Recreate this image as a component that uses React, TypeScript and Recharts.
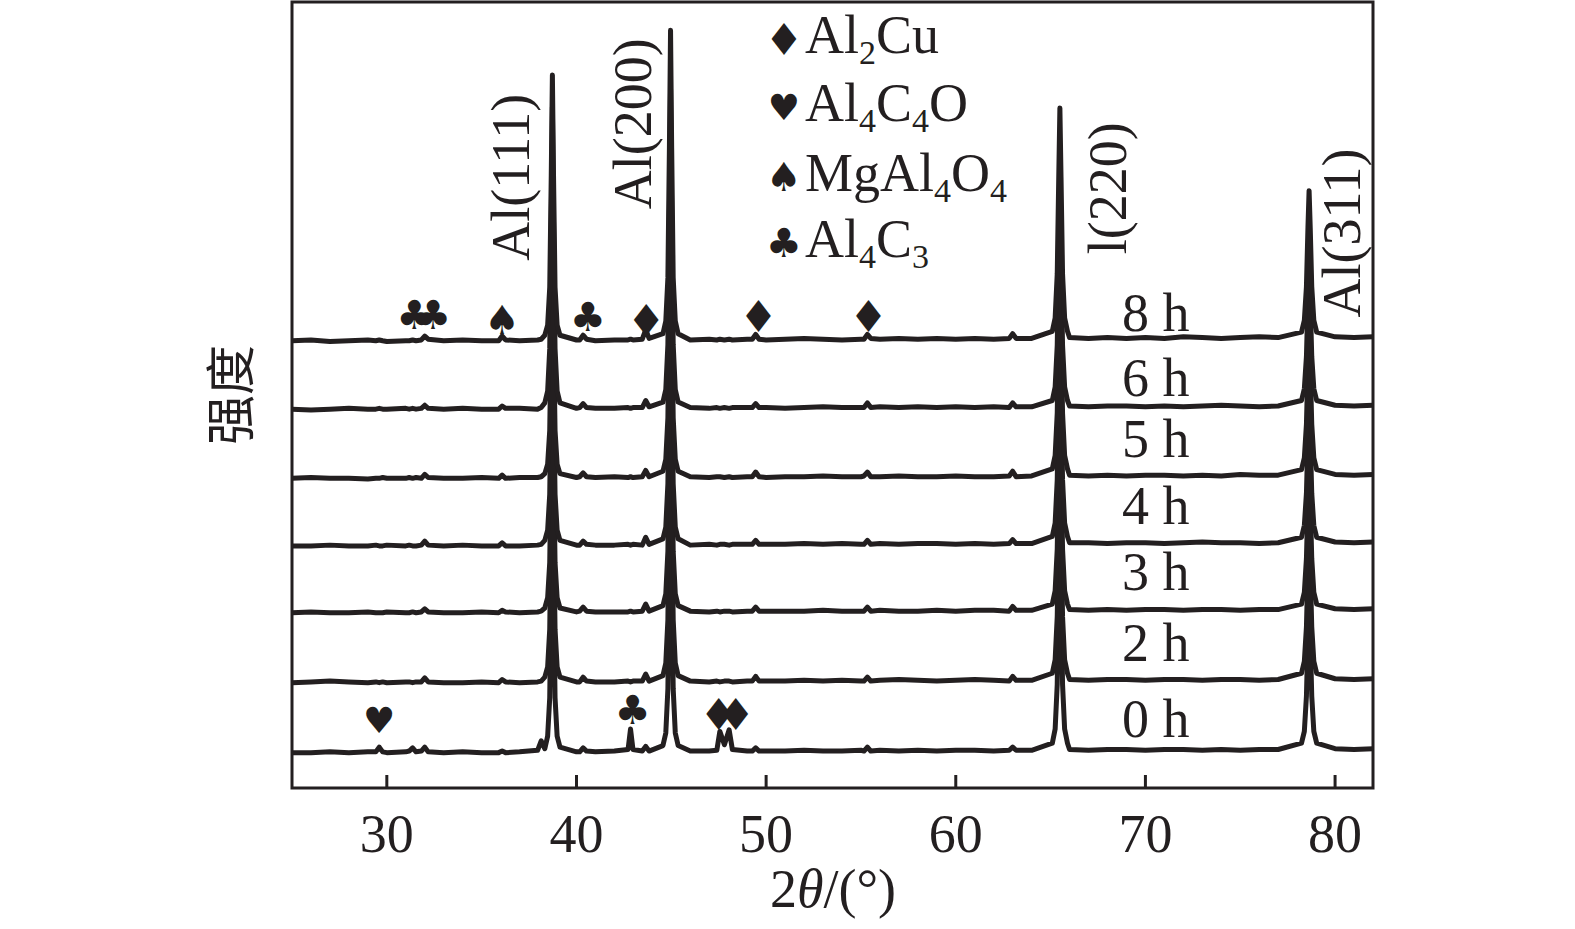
import { LineChart, Line, XAxis, YAxis, ReferenceArea, ReferenceDot } from 'recharts';

// 2θ sampling positions (degrees)
const twoTheta = [
  25, 26, 27, 28, 29, 29.42, 29.6, 29.78, 30, 31, 31.18, 31.36, 31.54, 31.82, 32.0, 32.18,
  33, 34, 35, 35.9, 36.08, 36.26, 37, 37.95, 38.14, 38.33, 38.48, 38.59, 38.67, 38.73, 38.79, 38.87, 38.98, 39.13,
  40, 40.17, 40.35, 40.53, 41, 42, 42.72, 42.85, 42.98, 43.47, 43.65, 43.83, 44.56, 44.71, 44.82, 44.9, 44.96, 45.02, 45.1, 45.21, 45.36,
  46, 47, 47.4, 47.56, 47.8, 48.05, 48.22, 49, 49.27, 49.45, 49.63, 50, 51, 52, 53, 54, 55, 55.16, 55.34, 55.52, 56, 57, 58, 59, 60, 61, 62, 62.82, 63, 63.18, 64,
  65.09, 65.24, 65.35, 65.43, 65.49, 65.55, 65.63, 65.74, 65.89, 66, 67, 68, 69, 70, 71, 72, 73, 74, 75, 76, 77,
  78.23, 78.38, 78.49, 78.57, 78.63, 78.69, 78.77, 78.88, 79.03, 80, 81, 82,
];

// intensity (a.u.) of each ball-milling time
const i0h = [
  10, 10, 11, 10, 11, 11, 17, 11, 10, 11, 12, 16, 11, 12, 17, 11,
  10, 11, 10, 10, 12, 10, 11, 13, 25, 15, 31, 80, 227, 360, 227, 80, 31, 17,
  11, 11, 16, 12, 11, 12, 14, 40, 14, 12, 18, 12, 19, 35, 91, 259, 411, 259, 91, 35, 19,
  12, 12, 13, 37, 20, 39, 14, 12, 12, 16, 12, 12, 12, 13, 12, 12, 13, 12, 17, 12, 13, 12, 13, 12, 13, 13, 12, 13, 17, 13, 13,
  22, 40, 97, 223, 313, 223, 97, 40, 22, 14, 13, 14, 14, 13, 14, 14, 13, 14, 13, 14, 14,
  22, 37, 82, 160, 209, 160, 82, 37, 22, 15, 14, 15,
];
const i2h = [
  10, 11, 12, 11, 10, 11, 10, 11, 10, 11, 11, 10, 11, 11, 16, 11,
  10, 10, 11, 10, 14, 11, 10, 11, 12, 17, 30, 78, 221, 350, 221, 78, 30, 17,
  11, 11, 17, 12, 11, 11, 12, 11, 12, 12, 21, 12, 19, 35, 90, 256, 406, 256, 90, 35, 19,
  12, 11, 12, 11, 12, 12, 11, 12, 12, 18, 12, 12, 12, 13, 12, 13, 12, 12, 17, 12, 13, 14, 13, 12, 13, 14, 13, 12, 18, 13, 13,
  22, 39, 94, 216, 303, 216, 94, 39, 22, 14, 13, 14, 14, 13, 14, 14, 13, 14, 14, 13, 14,
  22, 37, 81, 157, 204, 157, 81, 37, 22, 15, 14, 15,
];
const i3h = [
  10, 11, 10, 10, 11, 10, 10, 10, 11, 10, 10, 11, 10, 11, 15, 11,
  10, 10, 11, 10, 13, 11, 10, 11, 12, 16, 29, 74, 208, 330, 208, 74, 29, 16,
  11, 12, 17, 12, 11, 11, 11, 12, 11, 12, 21, 12, 19, 34, 88, 250, 396, 250, 88, 34, 19,
  12, 11, 12, 11, 12, 12, 11, 12, 12, 17, 12, 12, 12, 12, 13, 12, 12, 12, 17, 12, 13, 12, 12, 13, 12, 13, 13, 12, 18, 13, 13,
  21, 38, 91, 209, 293, 209, 91, 38, 21, 14, 13, 14, 13, 14, 14, 13, 14, 14, 13, 14, 14,
  21, 36, 79, 153, 199, 153, 79, 36, 21, 15, 14, 15,
];
const i4h = [
  10, 10, 11, 10, 10, 11, 10, 10, 11, 10, 11, 10, 10, 11, 16, 11,
  10, 11, 10, 10, 14, 10, 10, 11, 12, 17, 30, 76, 215, 340, 215, 76, 30, 17,
  11, 11, 16, 12, 11, 11, 12, 11, 12, 11, 21, 12, 19, 34, 89, 253, 401, 253, 89, 34, 19,
  11, 12, 11, 12, 12, 11, 12, 12, 12, 17, 12, 12, 12, 13, 12, 13, 12, 12, 17, 12, 13, 12, 13, 13, 12, 13, 12, 13, 18, 13, 13,
  22, 39, 94, 216, 303, 216, 94, 39, 22, 14, 14, 13, 14, 14, 13, 14, 15, 14, 14, 13, 14,
  21, 36, 77, 149, 194, 149, 77, 36, 21, 15, 14, 15,
];
const i5h = [
  10, 11, 10, 10, 9, 10, 10, 11, 10, 10, 11, 10, 11, 10, 15, 11,
  10, 10, 11, 10, 14, 10, 11, 11, 12, 16, 28, 71, 200, 317, 200, 71, 28, 16,
  11, 12, 17, 12, 11, 12, 11, 12, 11, 12, 20, 12, 19, 34, 87, 247, 391, 247, 87, 34, 19,
  12, 11, 12, 12, 11, 12, 11, 12, 12, 18, 12, 11, 12, 12, 13, 12, 12, 13, 18, 12, 12, 13, 12, 12, 13, 12, 12, 13, 19, 12, 13,
  22, 39, 93, 213, 298, 213, 93, 39, 22, 14, 13, 14, 13, 14, 14, 13, 14, 13, 15, 14, 14,
  21, 36, 79, 153, 199, 153, 79, 36, 21, 15, 14, 15,
];
const i6h = [
  10, 9, 10, 11, 10, 10, 11, 10, 10, 11, 10, 11, 10, 11, 15, 11,
  10, 11, 10, 10, 14, 11, 11, 10, 12, 18, 33, 87, 248, 394, 248, 87, 33, 18,
  11, 12, 17, 12, 11, 11, 12, 11, 12, 12, 21, 13, 19, 35, 92, 263, 418, 263, 92, 35, 19,
  12, 11, 12, 11, 12, 11, 12, 12, 12, 17, 12, 12, 11, 12, 13, 12, 12, 12, 18, 12, 13, 12, 13, 12, 13, 12, 13, 12, 18, 13, 13,
  21, 38, 91, 209, 293, 209, 91, 38, 21, 14, 13, 14, 14, 13, 14, 13, 14, 15, 14, 13, 14,
  21, 36, 77, 149, 194, 149, 77, 36, 21, 15, 14, 15,
];
const i8h = [
  10, 11, 9, 10, 11, 10, 11, 10, 9, 10, 10, 11, 10, 11, 16, 12,
  10, 11, 10, 10, 16, 11, 10, 11, 12, 17, 30, 78, 220, 348, 220, 78, 30, 17,
  11, 11, 17, 12, 10, 11, 11, 12, 11, 12, 24, 13, 19, 35, 90, 255, 405, 255, 90, 35, 19,
  11, 12, 11, 12, 11, 12, 11, 12, 12, 18, 12, 11, 12, 13, 12, 11, 12, 12, 18, 13, 12, 13, 12, 13, 12, 13, 12, 13, 19, 13, 13,
  22, 39, 95, 218, 306, 218, 95, 39, 22, 14, 13, 14, 13, 14, 13, 15, 14, 13, 14, 15, 14,
  21, 36, 79, 154, 201, 154, 79, 36, 21, 15, 14, 15,
];

const samples = ['0 h', '2 h', '3 h', '4 h', '5 h', '6 h', '8 h'];
const intensities = [i0h, i2h, i3h, i4h, i5h, i6h, i8h];
// vertical stacking offset of each pattern
const offsets = [35, 124, 213, 298, 384, 472, 559];

const xTicks = [30, 40, 50, 60, 70, 80];

const peakNames = ['Al(111)', 'Al(200)', 'l(220)', 'Al(311)'];
const peakPositions = [38.73, 44.96, 65.49, 78.63];

const phases = [
  { symbol: '\u2666', formula: 'Al2Cu' },
  { symbol: '\u2665', formula: 'Al4C4O' },
  { symbol: '\u2660', formula: 'MgAl4O4' },
  { symbol: '\u2663', formula: 'Al4C3' },
];

// phase markers over the minor peaks
const markers = [
  { symbol: '\u2663', twoTheta: 31.45, y: 602 },
  { symbol: '\u2663', twoTheta: 32.45, y: 602 },
  { symbol: '\u2660', twoTheta: 36.08, y: 595 },
  { symbol: '\u2663', twoTheta: 40.6, y: 599 },
  { symbol: '\u2666', twoTheta: 43.68, y: 595 },
  { symbol: '\u2666', twoTheta: 49.6, y: 600 },
  { symbol: '\u2666', twoTheta: 55.4, y: 600 },
  { symbol: '\u2665', twoTheta: 29.6, y: 86 },
  { symbol: '\u2663', twoTheta: 42.96, y: 99 },
  { symbol: '\u2666', twoTheta: 47.5, y: 93 },
  { symbol: '\u2666', twoTheta: 48.4, y: 93 },
];

const rows = twoTheta.map((t, k) => {
  const row: Record<string, number> = { t };
  intensities.forEach((arr, i) => {
    row['s' + i] = arr[k] + offsets[i];
  });
  return row;
});

// layout
const INK = '#231f20';
const SERIF = '"Liberation Serif", "Times New Roman", serif';
const SUIT = '"DejaVu Sans", sans-serif';
const suitSize: Record<string, number> = { '\u2666': 44, '\u2665': 36, '\u2660': 40, '\u2663': 40 };
const sampleLabelX = 70.55;
const sampleLabelLift = [30, 38, 39, 38, 37, 27, 22];
const peakLabelDx = [-41, -38, 48, 33];
const peakLabelY = [777, 845, 763, 706];
const legendBaselines = [53, 121, 191, 257];

function formula(text: string) {
  const parts = text.split(/(\d+)/).filter((p) => p !== '');
  let sub = false;
  return parts.map((p, i) => {
    const isDigit = /^\d+$/.test(p);
    let dy = 0;
    if (isDigit && !sub) dy = 11;
    if (!isDigit && sub) dy = -11;
    sub = isDigit;
    return (
      <tspan key={i} dy={dy} fontSize={isDigit ? 34 : 54}>
        {p}
      </tspan>
    );
  });
}

function Suit({ x, y, symbol }: { x: number; y: number; symbol: string }) {
  return (
    <text
      x={x}
      y={y}
      textAnchor="middle"
      dominantBaseline="central"
      fontSize={suitSize[symbol]}
      fontFamily={SUIT}
      fill={INK}
    >
      {symbol}
    </text>
  );
}

function App() {
  return (
    <div style={{ position: 'absolute', left: 0, top: 0, width: 1575, height: 929, background: '#fff' }}>
      <LineChart
        width={1575}
        height={929}
        data={rows}
        margin={{ top: 2, right: 202, bottom: 101, left: 292 }}
      >
        <XAxis
          dataKey="t"
          type="number"
          domain={[25, 82]}
          ticks={xTicks}
          height={40}
          axisLine={false}
          tickSize={-13}
          tickMargin={39}
          tickLine={{ stroke: INK, strokeWidth: 3 }}
          tick={{ fontSize: 54, fill: INK, fontFamily: SERIF }}
          interval={0}
        />
        <YAxis hide domain={[0, 1000]} type="number" />
        <ReferenceArea
          x1={25}
          x2={82}
          y1={0}
          y2={1000}
          fill="none"
          fillOpacity={0}
          stroke={INK}
          strokeWidth={3}
          strokeOpacity={1}
        />
        {samples.map((s, i) => (
          <Line
            key={s}
            dataKey={'s' + i}
            name={s}
            type="linear"
            stroke={INK}
            strokeWidth={5}
            strokeLinejoin="round"
            dot={false}
            activeDot={false}
            isAnimationActive={false}
          />
        ))}
        {samples.map((s, i) => (
          <ReferenceDot
            key={'lab' + s}
            x={sampleLabelX}
            y={offsets[i] + sampleLabelLift[i]}
            r={0}
            ifOverflow="visible"
            shape={(p: any) => (
              <text x={p.cx} y={p.cy} textAnchor="middle" fontSize={54} fontFamily={SERIF} fill={INK}>
                {s}
              </text>
            )}
          />
        ))}
        {peakNames.map((name, i) => (
          <ReferenceDot
            key={name}
            x={peakPositions[i]}
            y={peakLabelY[i]}
            r={0}
            ifOverflow="visible"
            shape={(p: any) => {
              const x = p.cx + peakLabelDx[i];
              return (
                <text
                  x={x}
                  y={p.cy}
                  transform={`rotate(-90 ${x} ${p.cy})`}
                  textAnchor="middle"
                  dominantBaseline="central"
                  fontSize={54}
                  fontFamily={SERIF}
                  fill={INK}
                >
                  {name}
                </text>
              );
            }}
          />
        ))}
        {markers.map((m, i) => (
          <ReferenceDot
            key={'m' + i}
            x={m.twoTheta}
            y={m.y}
            r={0}
            ifOverflow="visible"
            shape={(p: any) => <Suit x={p.cx} y={p.cy} symbol={m.symbol} />}
          />
        ))}
      </LineChart>
      <svg
        width={1575}
        height={929}
        style={{ position: 'absolute', left: 0, top: 0, pointerEvents: 'none' }}
      >
        {phases.map((ph, i) => (
          <g key={ph.formula}>
            <Suit x={784} y={legendBaselines[i] - 14} symbol={ph.symbol} />
            <text x={805} y={legendBaselines[i]} fontFamily={SERIF} fill={INK}>
              {formula(ph.formula)}
            </text>
          </g>
        ))}
        <text x={833} y={907} textAnchor="middle" fontSize={54} fontFamily={SERIF} fill={INK}>
          2<tspan fontStyle="italic">θ</tspan>/(°)
        </text>
        <text
          x={227}
          y={395}
          transform="rotate(-90 227 395)"
          textAnchor="middle"
          dominantBaseline="central"
          fontSize={50}
          fontFamily='"Noto Sans CJK SC", sans-serif'
          fill={INK}
        >
          强度
        </text>
      </svg>
    </div>
  );
}

export default App;
